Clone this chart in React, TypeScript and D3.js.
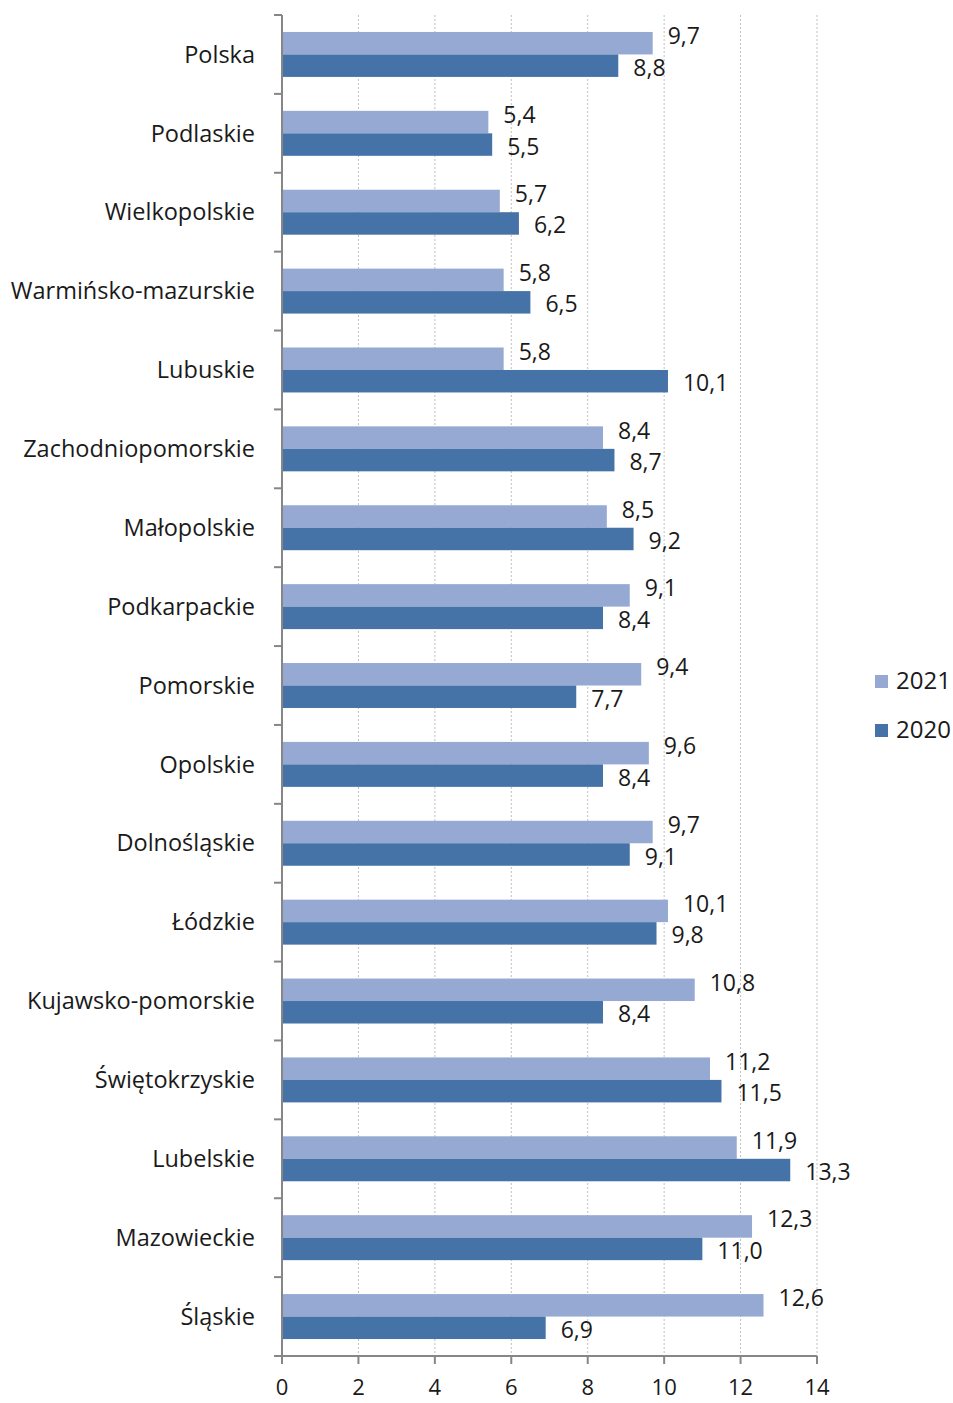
import * as d3 from "d3";
import * as React from "react";

const regions = [
  "Polska",
  "Podlaskie",
  "Wielkopolskie",
  "Warmińsko-mazurskie",
  "Lubuskie",
  "Zachodniopomorskie",
  "Małopolskie",
  "Podkarpackie",
  "Pomorskie",
  "Opolskie",
  "Dolnośląskie",
  "Łódzkie",
  "Kujawsko-pomorskie",
  "Świętokrzyskie",
  "Lubelskie",
  "Mazowieckie",
  "Śląskie",
];
const values2021 = [9.7, 5.4, 5.7, 5.8, 5.8, 8.4, 8.5, 9.1, 9.4, 9.6, 9.7, 10.1, 10.8, 11.2, 11.9, 12.3, 12.6];
const values2020 = [8.8, 5.5, 6.2, 6.5, 10.1, 8.7, 9.2, 8.4, 7.7, 8.4, 9.1, 9.8, 8.4, 11.5, 13.3, 11.0, 6.9];
const seriesNames = ["2021", "2020"];
const xTicks = [0, 2, 4, 6, 8, 10, 12, 14];

const colors = { "2021": "#95a9d3", "2020": "#4573a7" };
const font = "'Open Sans', sans-serif";

export default function App() {
  const width = 953;
  const height = 1403;
  const margin = { top: 15, right: 136, bottom: 47, left: 282 };

  const x = d3
    .scaleLinear()
    .domain([0, 14])
    .range([margin.left, width - margin.right]);

  const y = d3
    .scaleBand()
    .domain(regions)
    .range([margin.top, height - margin.bottom])
    .paddingInner(0.43)
    .paddingOuter(0.215);

  const ys = d3.scaleBand().domain(seriesNames).range([0, y.bandwidth()]);

  const step = y.step();
  const boundaries = d3.range(regions.length + 1).map((i) => margin.top + i * step);
  const fmt = (v) => d3.format(".1f")(v).replace(".", ",");
  const axisBottom = height - margin.bottom;

  const rows = regions.map((r, i) => ({ region: r, "2021": values2021[i], "2020": values2020[i] }));

  return (
    <svg
      width={width}
      height={height}
      style={{ position: "absolute", left: 0, top: 0, background: "#fff" }}
      fontFamily={font}
    >
      {/* gridlines */}
      {xTicks.slice(1).map((t) => (
        <line
          key={t}
          x1={x(t)}
          x2={x(t)}
          y1={margin.top}
          y2={axisBottom}
          stroke="#bfbfbf"
          strokeWidth={1}
          strokeDasharray="2,2"
        />
      ))}

      {/* bars */}
      {rows.map((d) =>
        seriesNames.map((s) => (
          <rect
            key={d.region + s}
            x={x(0)}
            y={y(d.region) + ys(s)}
            width={x(d[s]) - x(0)}
            height={ys.bandwidth()}
            fill={colors[s]}
          />
        ))
      )}

      {/* value labels */}
      {rows.map((d) =>
        seriesNames.map((s) => (
          <text
            key={"l" + d.region + s}
            x={x(d[s]) + 15}
            y={y(d.region) + ys(s) + ys.bandwidth() / 2 + (s === "2021" ? -7 : 2)}
            dy="0.35em"
            fontSize={23}
            fill="#1a1a1a"
          >
            {fmt(d[s])}
          </text>
        ))
      )}

      {/* y axis */}
      <line x1={x(0)} x2={x(0)} y1={margin.top} y2={axisBottom} stroke="#868686" strokeWidth={2} />
      {boundaries.map((b, i) => (
        <line key={"yt" + i} x1={x(0) - 8} x2={x(0)} y1={b} y2={b} stroke="#868686" strokeWidth={2} />
      ))}
      {regions.map((r) => (
        <text
          key={"c" + r}
          x={x(0) - 27}
          y={y(r) + y.bandwidth() / 2}
          dy="0.35em"
          textAnchor="end"
          fontSize={23.5}
          fill="#1a1a1a"
        >
          {r}
        </text>
      ))}

      {/* x axis */}
      <line x1={x(0) - 8} x2={x(14)} y1={axisBottom} y2={axisBottom} stroke="#868686" strokeWidth={2} />
      {xTicks.map((t) => (
        <g key={"xt" + t}>
          <line x1={x(t)} x2={x(t)} y1={axisBottom} y2={axisBottom + 8} stroke="#868686" strokeWidth={2} />
          <text x={x(t)} y={axisBottom + 31} dy="0.35em" textAnchor="middle" fontSize={22} fill="#1a1a1a">
            {t}
          </text>
        </g>
      ))}

      {/* legend */}
      {seriesNames.map((s, i) => (
        <g key={"lg" + s} transform={`translate(875,${681 + i * 49})`}>
          <rect x={0} y={-6} width={13} height={13} fill={colors[s]} />
          <text x={21} y={0} dy="0.35em" fontSize={24} fill="#1a1a1a">
            {s}
          </text>
        </g>
      ))}
    </svg>
  );
}
